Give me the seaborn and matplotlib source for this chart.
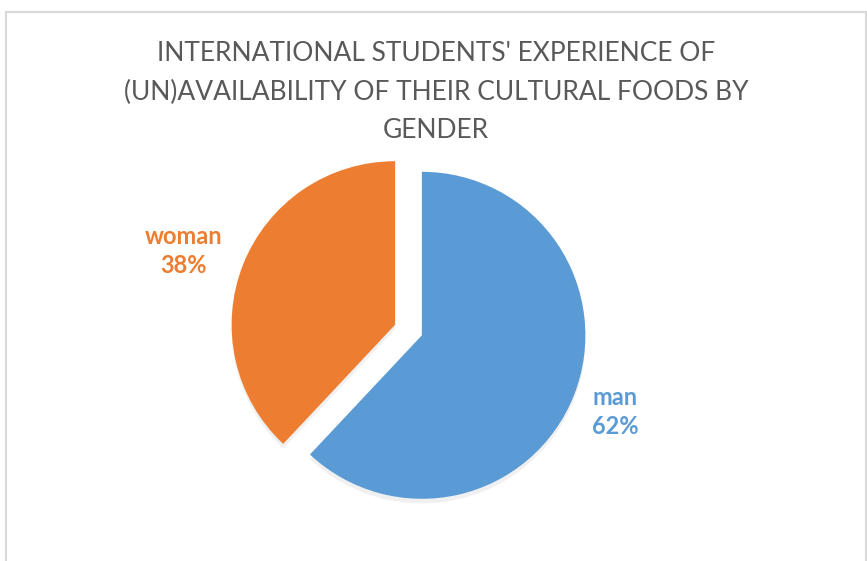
import matplotlib
matplotlib.use("Agg")
import matplotlib.pyplot as plt
import seaborn as sns
from matplotlib.patches import Rectangle

sns.set_theme(style="white")
plt.rcParams['font.family'] = ['Lato', 'DejaVu Sans']

labels = ["man", "woman"]
shares = [62, 38]
colors = ["#5B9BD5", "#ED7D31"]
title = "INTERNATIONAL STUDENTS' EXPERIENCE OF\n(UN)AVAILABILITY OF THEIR CULTURAL FOODS BY\nGENDER"

W, H = 867, 561
fig = plt.figure(figsize=(W / 100, H / 100), dpi=100)
fig.patch.set_facecolor("white")

# chart border
fig.patches.append(Rectangle((5.5 / W, -0.1), (866 - 5.5) / W, 1.1 - 12 / H + 0.0,
                             transform=fig.transFigure, fill=False,
                             edgecolor="#d9d9d9", linewidth=1.5))

ax = fig.add_axes([0, 0, 1, 1])
R = 163.5
cx, cy = 408.5, 330.0
ax.pie(shares, colors=colors, startangle=90, counterclock=False,
       explode=[0.088, 0.088], radius=1,
       wedgeprops=dict(linewidth=0),
       shadow=dict(ox=0.0, oy=-0.02, facecolor="#d0d0d0", edgecolor="none", alpha=0.3))
ax.set_xlim(-cx / R, (W - cx) / R)
ax.set_ylim(-(H - cy) / R, cy / R)
ax.set_aspect("auto")
ax.axis("off")

def px(x, y):
    return ((x - cx) / R, (cy - y) / R)

for lab, val, col, (x, y) in zip(labels, shares, colors, [(615, 412), (184, 251)]):
    ax.text(*px(x, y), f"{lab}\n{val}%", color=col, fontsize=17, fontweight="bold",
            ha="center", va="center", linespacing=1.3)

fig.text(436 / W, 1 - 92 / H, title, ha="center", va="center", color="#595959",
         fontsize=19, linespacing=1.65)

fig.savefig("out.png", dpi=100)
